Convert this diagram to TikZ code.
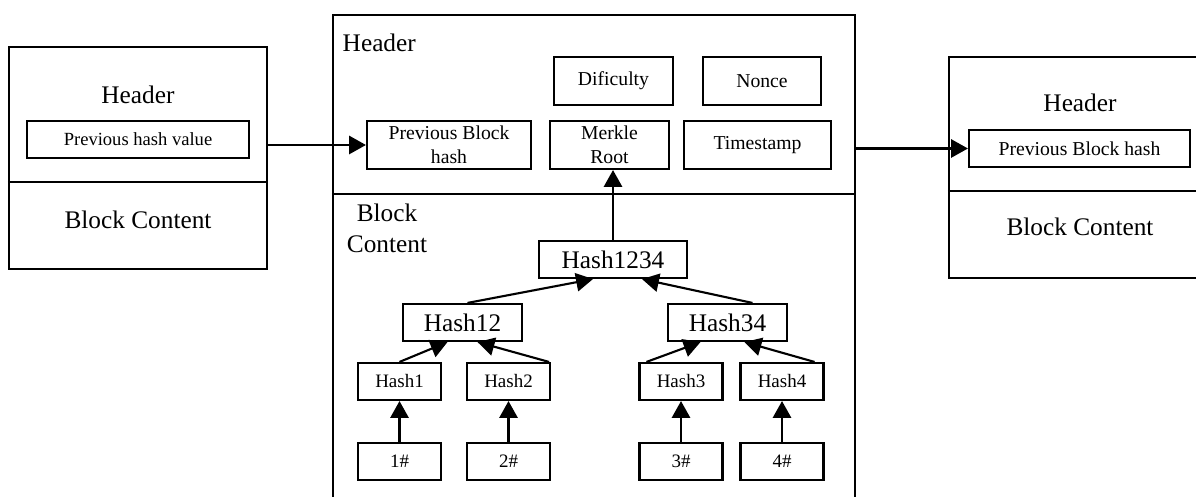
\documentclass[tikz,border=0pt]{standalone}
\usepackage{fontspec}
\setmainfont{Liberation Serif}
\usetikzlibrary{arrows.meta, calc}

\begin{document}
\begin{tikzpicture}[x=0.025cm, y=-0.025cm, line width=1.5pt,
  >={Triangle[length=12pt, width=13pt]},
  big/.style={font=\fontsize{18}{22}\selectfont},
  block/.style={draw, inner sep=0pt},
  field/.style={draw, inner sep=0pt, minimum height=1.2cm, align=center,
                font=\fontsize{14}{17}\selectfont},
  hashbox/.style={draw, inner sep=0pt, minimum height=0.925cm,
                  font=\fontsize{13.5}{16}\selectfont},
  bighash/.style={hashbox, font=\fontsize{18}{22}\selectfont}]
  \useasboundingbox (0,0) rectangle (1196,497);
  \clip (0,0) rectangle (1196,497);

  % previous block
  \node[block, minimum width=6.45cm, minimum height=5.55cm] (left) at (138,158) {};
  \draw (left.west |- 0,182) -- (left.east |- 0,182);
  \node[big] (lhead) at (138,95) {Header};
  \node[hashbox, minimum width=5.55cm, font=\fontsize{13.2}{16}\selectfont] (prevL) at (138,139.5) {Previous hash value};
  \node[big] (lcont) at (138,220) {Block Content};

  % current block
  \node[block, minimum width=13.05cm, minimum height=12.375cm] (mid) at (594,262.5) {};
  \draw (mid.west |- 0,194) -- (mid.east |- 0,194);
  \node[big, anchor=west] (mhead) at (337,43) {Header};
  \node[field, minimum width=2.975cm] (dific) at (613.5,81) {Dificulty};
  \node[field, minimum width=2.95cm] (nonce) at (762,81) {Nonce};
  \node[field, minimum width=4.1cm] (prevB) at (449,145) {Previous Block\\hash};
  \node[field, minimum width=2.975cm] (merkle) at (609.5,145) {Merkle\\Root};
  \node[field, minimum width=3.675cm] (timest) at (757.5,145) {Timestamp};
  \node[big, align=center] (mcont) at (387,228) {Block\\Content};

  \node[bighash, minimum width=3.7cm] (h1234) at (613,259.5) {Hash1234};
  \node[bighash, minimum width=2.975cm] (h12) at (462.5,322.5) {Hash12};
  \node[bighash, minimum width=2.975cm] (h34) at (727.5,322.5) {Hash34};
  \node[hashbox, minimum width=2.075cm] (h1) at (399.5,381.5) {Hash1};
  \node[hashbox, minimum width=2.075cm] (h2) at (508.5,381.5) {Hash2};
  \node[hashbox, minimum width=2.075cm] (h3) at (681,381.5) {Hash3};
  \node[hashbox, minimum width=2.075cm] (h4) at (782,381.5) {Hash4};
  \node[hashbox, minimum width=2.075cm] (d1) at (399.5,461.5) {1\#};
  \node[hashbox, minimum width=2.075cm] (d2) at (508.5,461.5) {2\#};
  \node[hashbox, minimum width=2.075cm] (d3) at (681,461.5) {3\#};
  \node[hashbox, minimum width=2.075cm] (d4) at (782,461.5) {4\#};

  % next block
  \node[block, minimum width=6.65cm, minimum height=5.525cm] (right) at (1082,167.5) {};
  \draw (right.west |- 0,191) -- (right.east |- 0,191);
  \node[big] (rhead) at (1080,103) {Header};
  \node[hashbox, minimum width=5.525cm, font=\fontsize{14}{17}\selectfont] (prevR) at (1079.5,148.5) {Previous Block hash};
  \node[big] (rcont) at (1080,227) {Block Content};

  % links
  \draw[->] (left.east |- prevB.west) -- (prevB.west);
  \draw[->] (mid.east |- prevR.west) -- (prevR.west);
  \draw[->] (h1234.north) -- (h1234.north |- merkle.south);
  \draw[->] ($(h12.north)+(5,0)$) -- ($(h1234.south)+(-20,0)$);
  \draw[->] ($(h34.north)+(25,0)$) -- ($(h1234.south)+(29,0)$);
  \draw[->] (h1.north) -- ($(h12.south)+(-15,0)$);
  \draw[->] ($(h2.north east)+(-2,0)$) -- ($(h12.south)+(15,0)$);
  \draw[->] ($(h3.north west)+(8,0)$) -- ($(h34.south)+(-27,0)$);
  \draw[->] ($(h4.north east)+(-10,0)$) -- ($(h34.south)+(17,0)$);
  \foreach \i in {1,...,4}
    \draw[->] (d\i.north) -- (h\i.south);
\end{tikzpicture}
\end{document}
